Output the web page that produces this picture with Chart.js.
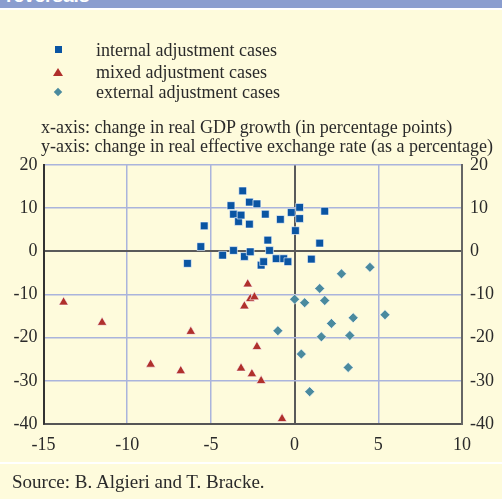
<!DOCTYPE html>
<html>
<head>
<meta charset="utf-8">
<script src="https://cdn.jsdelivr.net/npm/chart.js@4"></script>
<style>
  body { margin: 0; width: 502px; height: 499px; background: #fefbdc; overflow: hidden; position: relative; font-family: "Liberation Serif", serif; color: #2a2a2a; }
  #topBar { position: absolute; left: 0; top: 0; width: 502px; height: 8px; background: #8a9dcf; overflow: hidden; }
  #topBar span { position: absolute; left: 6px; top: -15px; font: bold 19px "Liberation Sans", sans-serif; color: #fff; }
  #topGap { position: absolute; left: 0; top: 8px; width: 502px; height: 2px; background: #fff; }
  #chart { position: absolute; left: 0; top: 0; }
  .txt { position: absolute; font-size: 18px; white-space: nowrap; line-height: 18px; }
  .mark { position: absolute; }
  #sourceLine { position: absolute; left: 0; top: 462px; width: 502px; height: 2px; background: #fff; }
</style>
</head>
<body>
<div id="topBar"><span>reversals</span></div>
<div id="topGap"></div>
<canvas id="chart" width="502" height="499"></canvas>
<div id="legend"></div>
<div class="txt" style="left:41px; top:118px;">x-axis: change in real GDP growth (in percentage points)</div>
<div class="txt" style="left:41px; top:137px;">y-axis: change in real effective exchange rate (as a percentage)</div>
<div id="sourceLine"></div>
<div class="txt" style="left:12px; top:473px; font-size:19px;">Source: B. Algieri and T. Bracke.</div>
<script>
const seriesNames = ['internal adjustment cases', 'mixed adjustment cases', 'external adjustment cases'];
const seriesColors = ['#0a55a3', '#b0302c', '#4a8a9e'];

const internalX = [-6.4, -5.6, -5.4, -4.3, -3.8, -3.65, -3.65, -3.35, -3.2, -3.1, -3.0, -2.7, -2.7, -2.65, -2.25, -2.0,
  -1.85, -1.75, -1.6, -1.5, -1.1, -0.65, -0.4, -0.85, -0.2, 0.3, 0.3, 0.05, 1.0, 1.5, 1.8];
const internalY = [-2.8, 1.1, 5.9, -0.9, 10.6, 8.6, 0.2, 6.9, 8.4, 14.0, -1.2, 11.4, 6.3, -0.1, 11.0, -3.2,
  -2.4, 8.6, 2.6, 0.2, -1.7, -1.7, -2.4, 7.4, 9.0, 10.2, 7.6, 4.8, -1.8, 1.9, 9.3];

const mixedX = [-13.8, -11.5, -8.6, -6.8, -6.2, -3.2, -3.0, -2.8, -2.65, -2.4, -2.55, -2.25, -2.0, -0.75];
const mixedY = [-11.8, -16.5, -26.2, -27.7, -18.6, -27.1, -12.7, -7.6, -11.0, -10.6, -28.4, -22.1, -30.0, -38.8];

const externalX = [4.5, 2.8, 1.5, 0.0, 0.6, 1.8, 3.5, 5.4, 2.2, 1.6, 3.3, -1.0, 0.4, 3.2, 0.9];
const externalY = [-3.7, -5.2, -8.6, -11.1, -11.9, -11.4, -15.4, -14.7, -16.7, -19.8, -19.5, -18.4, -23.8, -26.9, -32.5];

const xTicks = [-15, -10, -5, 0, 5, 10];
const yTicks = [20, 10, 0, -10, -20, -30, -40];

function toPoints(xs, ys) {
  return xs.map((x, i) => ({ x: x, y: ys[i] }));
}

// legend built as html so the text stays text
const legendBox = document.getElementById('legend');
const legendTops = [41, 63, 83];
seriesNames.forEach((name, i) => {
  const row = document.createElement('div');
  row.className = 'txt';
  row.style.left = '96px';
  row.style.top = legendTops[i] + 'px';
  row.innerText = name;
  legendBox.appendChild(row);

  const m = document.createElement('div');
  m.className = 'mark';
  const cy = legendTops[i] + 9;
  if (i === 0) {
    m.style.cssText = `left:55px; top:${cy - 4}px; width:7px; height:7px; background:${seriesColors[0]};`;
  } else if (i === 1) {
    m.style.cssText = `left:53px; top:${cy - 4}px; width:0; height:0; border-left:5px solid transparent; border-right:5px solid transparent; border-bottom:8px solid ${seriesColors[1]};`;
  } else {
    m.style.cssText = `left:55px; top:${cy - 3}px; width:6px; height:6px; background:${seriesColors[2]}; transform:rotate(45deg);`;
  }
  legendBox.appendChild(m);
});

const gridColor = c => (c.tick && c.tick.value === 0) ? '#5a5a5a' : '#aab4dc';
const gridWidth = c => (c.tick && c.tick.value === 0) ? 2 : 1.5;
const tickFont = { family: 'Liberation Serif', size: 18 };

new Chart(document.getElementById('chart'), {
  type: 'scatter',
  data: {
    datasets: [
      {
        label: seriesNames[0],
        data: toPoints(internalX, internalY),
        pointStyle: 'rect',
        radius: 5.5,
        backgroundColor: seriesColors[0],
        borderColor: 'rgba(255,255,255,0.6)',
        borderWidth: 1
      },
      {
        label: seriesNames[1],
        data: toPoints(mixedX, mixedY),
        pointStyle: 'triangle',
        radius: 5.5,
        backgroundColor: seriesColors[1],
        borderColor: 'rgba(255,255,255,0.6)',
        borderWidth: 1
      },
      {
        label: seriesNames[2],
        data: toPoints(externalX, externalY),
        pointStyle: 'rectRot',
        radius: 5,
        backgroundColor: seriesColors[2],
        borderColor: 'rgba(255,255,255,0.6)',
        borderWidth: 1
      }
    ]
  },
  options: {
    responsive: false,
    animation: false,
    layout: { padding: { left: 0, right: 0, top: 165, bottom: 45 } },
    plugins: { legend: { display: false }, tooltip: { enabled: false } },
    scales: {
      x: {
        type: 'linear',
        min: xTicks[0],
        max: xTicks[xTicks.length - 1],
        afterBuildTicks: s => { s.ticks = xTicks.map(v => ({ value: v })); },
        afterFit: s => { s.height = 30; },
        grid: { color: gridColor, lineWidth: gridWidth, drawTicks: false },
        border: { color: '#555', width: 2 },
        ticks: { color: '#2a2a2a', font: tickFont, padding: 10 }
      },
      y: {
        type: 'linear',
        position: 'left',
        min: yTicks[yTicks.length - 1],
        max: yTicks[0],
        afterBuildTicks: s => { s.ticks = yTicks.slice().reverse().map(v => ({ value: v })); },
        afterFit: s => { s.width = 43.5; },
        grid: { color: gridColor, lineWidth: gridWidth, drawTicks: false },
        border: { color: '#333', width: 2 },
        ticks: { color: '#2a2a2a', font: tickFont, padding: 6 }
      },
      y2: {
        type: 'linear',
        position: 'right',
        min: yTicks[yTicks.length - 1],
        max: yTicks[0],
        afterBuildTicks: s => { s.ticks = yTicks.slice().reverse().map(v => ({ value: v })); },
        afterFit: s => { s.width = 40; },
        grid: { display: false, drawTicks: false },
        border: { color: '#666', width: 2 },
        ticks: { color: '#2a2a2a', font: tickFont, padding: 8 }
      }
    }
  }
});
</script>
</body>
</html>
